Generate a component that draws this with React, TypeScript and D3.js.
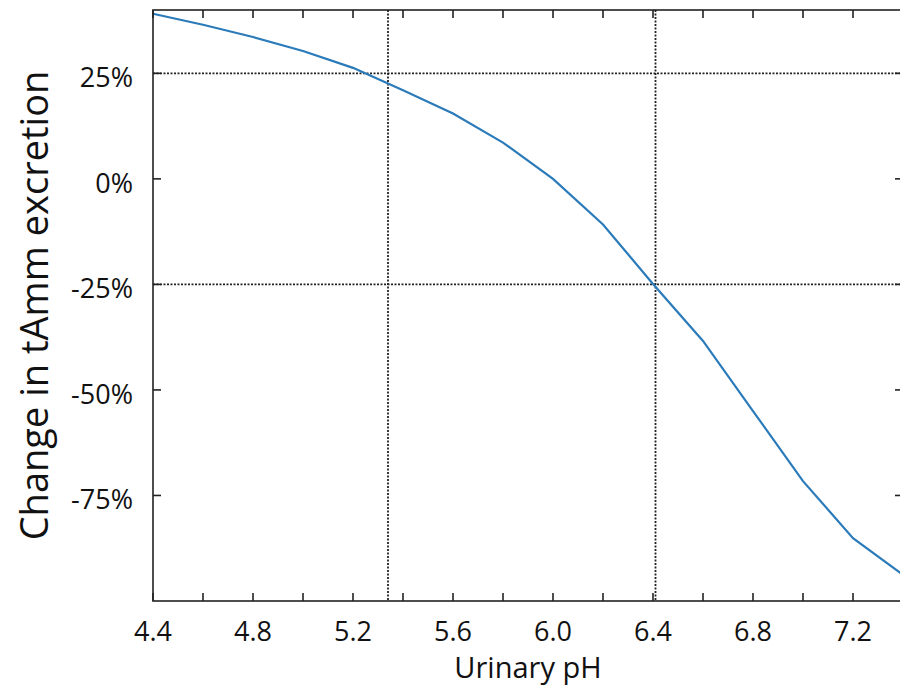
import React, { useRef, useEffect } from "react";
import * as d3 from "d3";

const ph = [4.4, 4.6, 4.8, 5.0, 5.2, 5.4, 5.6, 5.8, 6.0, 6.2, 6.4, 6.6, 6.8, 7.0, 7.2, 7.4];
const change = [39.1, 36.5, 33.6, 30.3, 26.3, 21.0, 15.5, 8.6, 0, -10.8, -24.9, -38.4, -55.0, -71.6, -85.1, -93.8];

const xTickValues = [4.4, 4.6, 4.8, 5.0, 5.2, 5.4, 5.6, 5.8, 6.0, 6.2, 6.4, 6.6, 6.8, 7.0, 7.2, 7.4];
const xLabelValues = [4.4, 4.8, 5.2, 5.6, 6.0, 6.4, 6.8, 7.2];
const yTickValues = [25, 0, -25, -50, -75];
const refPh = [5.34, 6.41];
const refChange = [25, -25];

const App = () => {
  const ref = useRef<SVGSVGElement>(null);
  const width = 900;
  const height = 688;

  useEffect(() => {
    const margin = { top: 10, right: -3, bottom: 87, left: 153 };
    const svg = d3.select(ref.current);
    svg.selectAll("*").remove();

    const x = d3
      .scaleLinear()
      .domain([4.4, 7.4])
      .range([margin.left, width - margin.right]);

    const y = d3
      .scaleLinear()
      .domain([-100, 40])
      .range([height - margin.bottom, margin.top]);

    const font = "'Open Sans', sans-serif";
    const ink = "#222";
    const tick = 8;
    const [x0, x1] = x.range();
    const [y0, y1] = y.range();

    // dotted reference lines
    svg
      .append("g")
      .selectAll("line")
      .data(refPh)
      .join("line")
      .attr("x1", (d) => x(d))
      .attr("x2", (d) => x(d))
      .attr("y1", y1)
      .attr("y2", y0)
      .attr("stroke", ink)
      .attr("stroke-width", 1.8)
      .attr("stroke-dasharray", "2,1.5");

    svg
      .append("g")
      .selectAll("line")
      .data(refChange)
      .join("line")
      .attr("x1", x0)
      .attr("x2", x1)
      .attr("y1", (d) => y(d))
      .attr("y2", (d) => y(d))
      .attr("stroke", ink)
      .attr("stroke-width", 1.8)
      .attr("stroke-dasharray", "2,1.5");

    // curve
    const line = d3
      .line<number>()
      .x((d, i) => x(ph[i]))
      .y((d) => y(d));

    svg
      .append("path")
      .datum(change)
      .attr("d", line)
      .attr("fill", "none")
      .attr("stroke", "#2b7bba")
      .attr("stroke-width", 2.2);

    // frame
    svg
      .append("rect")
      .attr("x", x0)
      .attr("y", y1)
      .attr("width", x1 - x0)
      .attr("height", y0 - y1)
      .attr("fill", "none")
      .attr("stroke", ink)
      .attr("stroke-width", 1.6);

    // inward ticks
    const ticks = svg.append("g").attr("stroke", ink).attr("stroke-width", 1.6);
    xTickValues.forEach((v) => {
      ticks.append("line").attr("x1", x(v)).attr("x2", x(v)).attr("y1", y0).attr("y2", y0 - tick);
      ticks.append("line").attr("x1", x(v)).attr("x2", x(v)).attr("y1", y1).attr("y2", y1 + tick);
    });
    yTickValues.forEach((v) => {
      ticks.append("line").attr("x1", x0).attr("x2", x0 + tick).attr("y1", y(v)).attr("y2", y(v));
      ticks.append("line").attr("x1", x1).attr("x2", x1 - tick).attr("y1", y(v)).attr("y2", y(v));
    });

    // tick labels
    svg
      .append("g")
      .selectAll("text")
      .data(xLabelValues)
      .join("text")
      .attr("x", (d) => x(d))
      .attr("y", y0 + 40)
      .attr("text-anchor", "middle")
      .attr("font-family", font)
      .attr("font-size", 27)
      .attr("fill", "#111")
      .text((d) => d.toFixed(1));

    svg
      .append("g")
      .selectAll("text")
      .data(yTickValues)
      .join("text")
      .attr("x", x0 - 20)
      .attr("y", (d) => y(d) + 14)
      .attr("text-anchor", "end")
      .attr("font-family", font)
      .attr("font-size", 27)
      .attr("fill", "#111")
      .text((d) => `${d}%`);

    // axis titles
    svg
      .append("text")
      .attr("x", (x0 + x1) / 2)
      .attr("y", 678)
      .attr("text-anchor", "middle")
      .attr("font-family", font)
      .attr("font-size", 29)
      .attr("fill", "#111")
      .text("Urinary pH");

    svg
      .append("text")
      .attr("transform", `translate(48,${(y0 + y1) / 2}) rotate(-90)`)
      .attr("text-anchor", "middle")
      .attr("font-family", font)
      .attr("font-size", 38)
      .attr("fill", "#111")
      .text("Change in tAmm excretion");
  }, []);

  return (
    <svg
      ref={ref}
      width={width}
      height={height}
      style={{ position: "absolute", left: 0, top: 0, background: "#fff" }}
    />
  );
};

export default App;
